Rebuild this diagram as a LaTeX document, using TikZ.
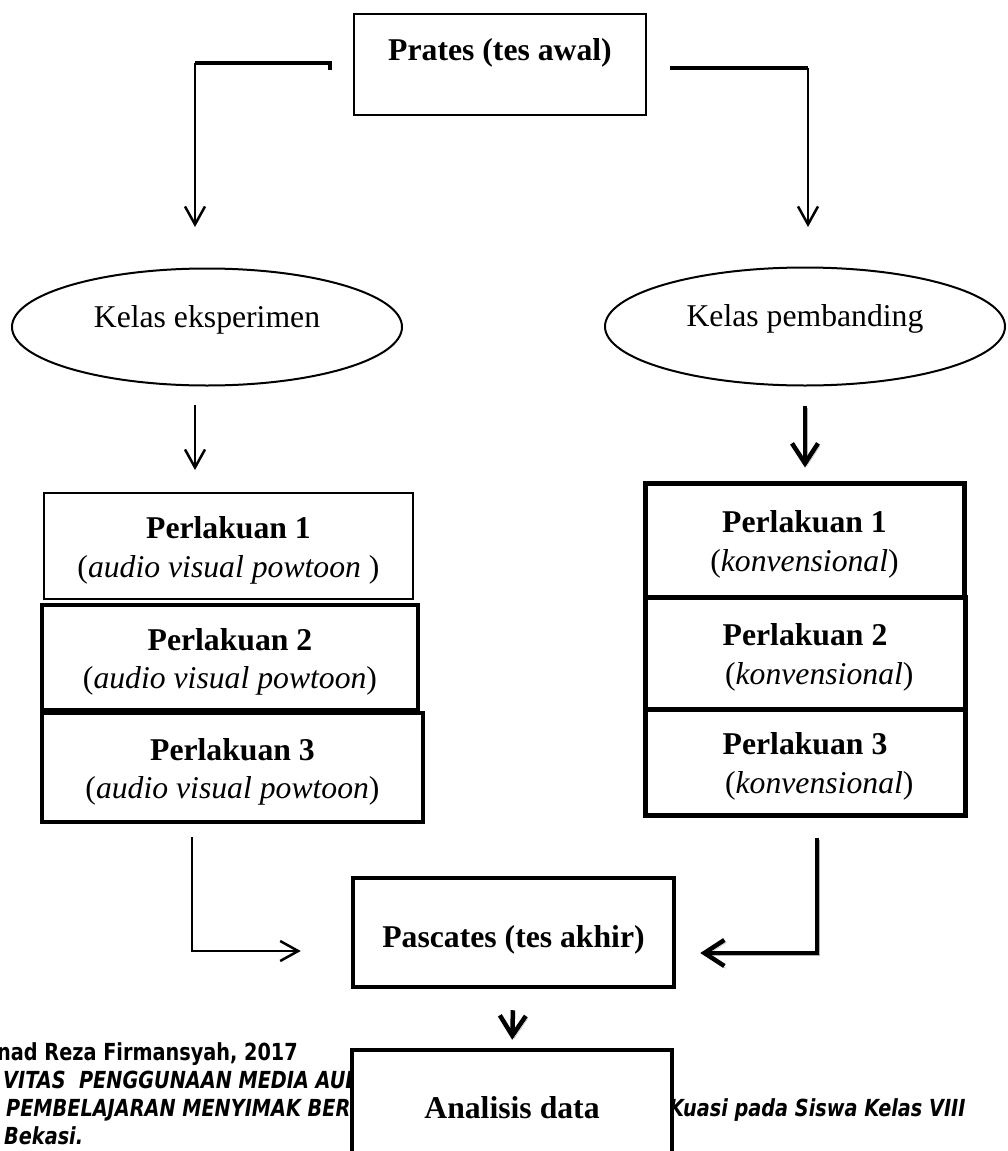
\documentclass[tikz,border=0pt]{standalone}
\usepackage{fontspec}
\setmainfont{Liberation Serif}
\newfontfamily\footfont[FakeStretch=0.82]{DejaVu Sans}
\usetikzlibrary{arrows.meta,shapes.geometric}

\newcommand\padtop{\rule{0pt}{31pt}}

\tikzset{
	boxthin/.style={draw, line width=2pt, inner sep=0pt, align=center},
	boxthick/.style={draw, line width=4.5pt, inner sep=0pt, align=center},
	kelas/.style={draw, ellipse, line width=2pt, inner sep=0pt, text height=10pt, text depth=10pt},
	bar/.style={line width=4pt},
	thinarrow/.style={line width=2.5pt, -{Straight Barb[length=18pt,width=20pt]}},
	thickarrow/.style={line width=4.5pt, -{Straight Barb[length=20pt,width=26pt]}},
	shadowed/.style={preaction={draw, black!30, transform canvas={shift={(2pt,-2.5pt)}}}},
	footbase/.style={anchor=base west, inner sep=0pt, font=\footfont\fontsize{23.5}{27}\selectfont\bfseries},
	footline/.style={footbase, font=\footfont\fontsize{23.5}{27}\selectfont\bfseries\itshape}
}

\begin{document}
\begin{tikzpicture}[x=1pt, y=-1pt, every node/.style={font=\fontsize{31.7}{38.5}\selectfont}]
			\useasboundingbox (0,0) rectangle (1007,1151);
			
			%%%%% TOP %%%%%
			\node[boxthin, minimum width=292pt, text height=46.5pt, text depth=54.5pt] (prates) at (500,64.5) {\textbf{Prates (tes awal)}};
			
			\node[kelas, minimum width=390pt, minimum height=117pt] (eksp) at (207,327) {Kelas eksperimen};
			\node[kelas, minimum width=400pt, minimum height=118pt] (pemb) at (805,326.5) {Kelas pembanding};
			
			\coordinate (lstart) at (330,70);
			\coordinate (lturn) at (195,63);
			\coordinate (lend) at (195,227);
			\coordinate (rstart) at (672,70);
			\coordinate (rturn) at (808,68);
			\coordinate (rend) at (808,227);
			
			\draw[bar] (lstart) |- (lturn);
			\draw[thinarrow] (lturn) -- (lend);
			\draw[bar] (rstart) |- (rturn);
			\draw[thinarrow] (rturn) -- (rend);
			
			%%%%% PERLAKUAN %%%%%
			\node[boxthin, minimum width=369pt, minimum height=106pt] (e1) at (228.5,546) {\padtop\textbf{Perlakuan 1}\\(\textit{audio visual powtoon} )};
			\node[boxthick, minimum width=376pt, minimum height=105pt] (e2) at (230,657.5) {\padtop\textbf{Perlakuan 2}\\(\textit{audio visual powtoon})};
			\node[boxthick, minimum width=381pt, minimum height=109pt] (e3) at (232.5,767.5) {\padtop\textbf{Perlakuan 3}\\(\textit{audio visual powtoon})};
			
			\node[boxthick, line width=5pt, minimum width=319pt, minimum height=114pt] (p1) at (804.5,540) {\padtop\textbf{Perlakuan 1}\\(\textit{konvensional})};
			\node[boxthick, line width=5pt, minimum width=320pt, minimum height=112pt] (p2) at (805,653) {\padtop\textbf{Perlakuan 2}\\\hspace*{0.9em}(\textit{konvensional})};
			\node[boxthick, line width=5pt, minimum width=320pt, minimum height=106pt] (p3) at (805,762) {\padtop\textbf{Perlakuan 3}\\\hspace*{0.9em}(\textit{konvensional})};
			
			\draw[thinarrow, shorten <=18pt, shorten >=22pt] (eksp.south -| lend) -- (e1.north -| lend);
			\draw[thickarrow, shadowed, shorten <=19pt, shorten >=13pt] (pemb.south) -- (pemb.south |- p1.north);
			
			%%%%% PASCATES %%%%%
			\node[boxthick, minimum width=321pt, text height=69.5pt, text depth=39.5pt] (pascates) at (513.5,932.5) {\textbf{Pascates (tes akhir)}};
			
			\coordinate (lbot) at (192,951);
			\coordinate (rbot) at (817,953);
			\draw[thinarrow, shorten <=13pt, shorten >=50pt] (e3.south -| lbot) |- (pascates.west |- lbot);
			\draw[thickarrow, shadowed, shorten <=20pt, shorten >=24pt] (p3.south -| rbot) |- (pascates.east |- rbot);
			
			%%%%% FOOTER %%%%%
			\node[footbase] (foot1) at (-3,1060) {nad Reza Firmansyah, 2017};
			\node[footline] (foot2) at (3,1088) {VITAS\ \ PENGGUNAAN MEDIA AUD};
			\node[footline] (foot3) at (6,1116) {PEMBELAJARAN MENYIMAK BER};
			\node[footline] (foot3b) at (669,1116) {Kuasi pada Siswa Kelas VIII};
			\node[footline] (foot4) at (4,1144) {Bekasi.};
			
			\node[boxthick, fill=white, minimum width=320pt, text height=68.5pt, text depth=50pt] (analisis) at (512,1109.25) {\textbf{Analisis data}};
			\draw[thickarrow, shadowed, shorten <=21pt, shorten >=8pt] (pascates.south) -- (analisis.north);
\end{tikzpicture}
\end{document}
